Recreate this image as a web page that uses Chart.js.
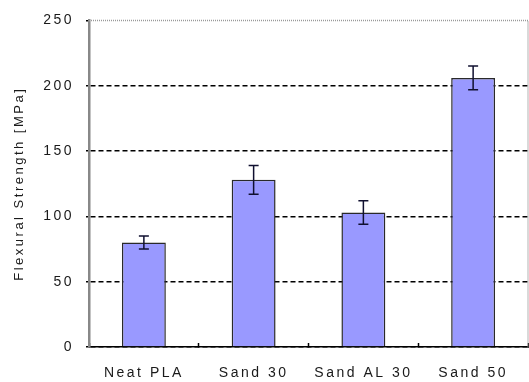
<!DOCTYPE html>
<html>
<head>
<meta charset="utf-8">
<script src="https://cdn.jsdelivr.net/npm/chart.js@4.4.0/dist/chart.umd.min.js"></script>
<style>
  html, body { margin: 0; padding: 0; background: #fff; }
  #wrap { width: 529px; height: 382px; }
</style>
</head>
<body>
<div id="wrap"><canvas id="chart" width="529" height="382"></canvas></div>
<script>
const categories = ['Neat PLA', 'Sand 30', 'Sand AL 30', 'Sand 50'];
const strength = [80, 128, 103, 206];
const strengthErr = [5, 11, 9, 9];
const yTicks = [0, 50, 100, 150, 200, 250];

const FONT = "'Liberation Sans', Arial, sans-serif";

// wide, spaced-out lettering for all chart text
const spacedText = {
  id: 'spacedText',
  beforeDraw(chart) {
    chart.ctx.letterSpacing = '2.5px';
  },
};

// light dotted frame on the top and right of the plot
const plotFrame = {
  id: 'plotFrame',
  beforeDatasetsDraw(chart) {
    const { ctx, chartArea: { left, top, right, bottom } } = chart;
    ctx.save();
    ctx.strokeStyle = '#9a9a9a';
    ctx.lineWidth = 1.5;
    ctx.setLineDash([1, 1]);
    ctx.beginPath();
    ctx.moveTo(left, top);
    ctx.lineTo(right, top);
    ctx.lineTo(right, bottom);
    ctx.stroke();
    ctx.restore();
  },
};

// +/- error whiskers with caps
const errorBars = {
  id: 'errorBars',
  afterDatasetsDraw(chart) {
    const { ctx } = chart;
    const yScale = chart.scales.y;
    const meta = chart.getDatasetMeta(0);
    ctx.save();
    ctx.strokeStyle = '#101030';
    ctx.lineWidth = 1.5;
    meta.data.forEach((bar, i) => {
      const hi = yScale.getPixelForValue(strength[i] + strengthErr[i]);
      const lo = yScale.getPixelForValue(strength[i] - strengthErr[i]);
      const cap = 5;
      ctx.beginPath();
      ctx.moveTo(bar.x, hi);
      ctx.lineTo(bar.x, lo);
      ctx.moveTo(bar.x - cap, hi);
      ctx.lineTo(bar.x + cap, hi);
      ctx.moveTo(bar.x - cap, lo);
      ctx.lineTo(bar.x + cap, lo);
      ctx.stroke();
    });
    ctx.restore();
  },
};

new Chart(document.getElementById('chart'), {
  type: 'bar',
  data: {
    labels: categories,
    datasets: [{
      data: strength,
      backgroundColor: '#9999ff',
      borderColor: '#2a2a2a',
      borderWidth: 1.5,
      barPercentage: 0.4,
      categoryPercentage: 1,
    }],
  },
  options: {
    responsive: false,
    animation: false,
    layout: { padding: { top: 19, right: 1, left: 0, bottom: 0 } },
    plugins: {
      legend: { display: false },
      tooltip: { enabled: false },
    },
    scales: {
      x: {
        afterFit(scale) { scale.height = 35; },
        border: { color: '#000', width: 1.5 },
        grid: {
          offset: true,
          drawOnChartArea: false,
          drawTicks: true,
          tickLength: -4,
          tickColor: '#000',
          tickWidth: 1.5,
        },
        ticks: {
          color: '#1a1a1a',
          padding: 22,
          font: { family: FONT, size: 14 },
        },
      },
      y: {
        min: 0,
        max: 250,
        afterFit(scale) { scale.width = 89; },
        afterBuildTicks(scale) {
          scale.ticks = yTicks.map((value) => ({ value }));
        },
        border: { color: '#888', width: 2.5, dash: [5, 3] },
        grid: {
          color: (c) => (c.tick && c.tick.value === 250 ? 'rgba(0,0,0,0)' : '#000'),
          lineWidth: 1.5,
          drawTicks: true,
          tickLength: 3,
          tickColor: '#000',
          tickWidth: 1.5,
          tickBorderDash: [],
        },
        ticks: {
          color: '#1a1a1a',
          padding: 12,
          font: { family: FONT, size: 14 },
        },
        title: {
          display: true,
          text: 'Flexural Strength [MPa]',
          color: '#1a1a1a',
          padding: { top: 12, bottom: 0 },
          font: { family: FONT, size: 13 },
        },
      },
    },
  },
  plugins: [spacedText, plotFrame, errorBars],
});
</script>
</body>
</html>
